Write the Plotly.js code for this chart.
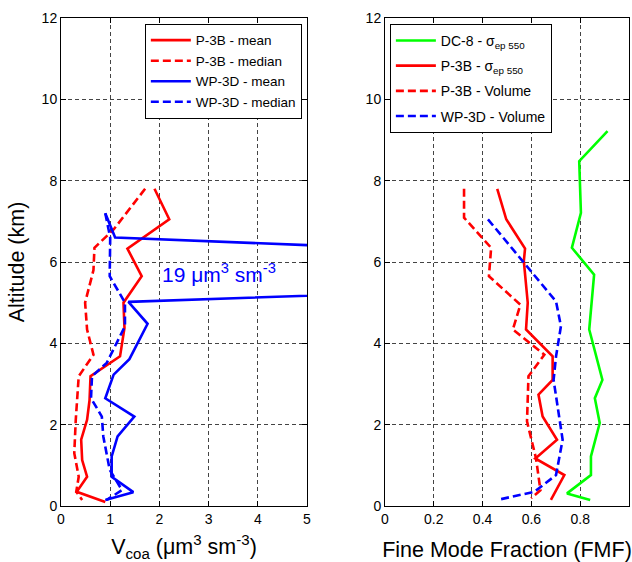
<!DOCTYPE html>
<html>
<head>
<meta charset="utf-8">
<script src="https://cdn.plot.ly/plotly-3.0.1.min.js"></script>
<style>html,body{margin:0;padding:0;background:#fff;}#chart{width:632px;height:562px;}</style>
</head>
<body>
<div id="chart"></div>
<script>
// ---- Left panel: coarse-mode volume (um^3 sm^-3) vs altitude (km) ----
const p3bMeanAlt = [7.80, 7.05, 6.33, 5.65, 5.00, 4.38, 3.68, 3.19, 2.60, 2.12, 1.63, 1.13, 0.72, 0.35, 0.10];
const p3bMeanV   = [1.90, 2.20, 1.35, 1.64, 1.27, 1.29, 1.20, 0.60, 0.58, 0.53, 0.41, 0.43, 0.53, 0.32, 0.90];

const p3bMedAlt = [7.80, 6.80, 6.35, 5.80, 5.00, 4.34, 3.72, 3.19, 2.12, 1.30, 0.72, 0.35, 0.15];
const p3bMedV   = [1.71, 1.07, 0.68, 0.66, 0.49, 0.53, 0.66, 0.36, 0.30, 0.27, 0.36, 0.31, 0.43];

const wpMeanAlt = [7.20, 6.60, 5.75, 5.02, 4.48, 3.61, 3.23, 2.65, 2.20, 1.71, 1.22, 0.72, 0.34, 0.15];
const wpMeanV   = [0.90, 1.10, 19.0, 1.37, 1.76, 1.39, 1.07, 0.90, 1.49, 1.15, 1.03, 1.03, 1.47, 0.90];

const wpMedAlt = [7.20, 6.60, 5.65, 5.00, 4.42, 3.52, 3.19, 2.65, 2.20, 1.71, 0.89, 0.39, 0.15];
const wpMedV   = [0.90, 1.00, 0.99, 1.30, 1.30, 0.93, 0.63, 0.61, 0.83, 0.86, 0.99, 1.24, 0.93];

// ---- Right panel: fine mode fraction vs altitude (km) ----
const dc8Alt = [9.22, 8.48, 7.21, 6.35, 5.69, 4.34, 3.10, 2.65, 2.04, 1.22, 0.76, 0.31, 0.15];
const dc8Fmf = [0.912, 0.796, 0.803, 0.766, 0.857, 0.837, 0.891, 0.860, 0.880, 0.844, 0.844, 0.746, 0.841];

const p3bSigAlt = [7.80, 7.05, 6.33, 6.02, 5.00, 4.34, 3.68, 3.10, 2.74, 2.20, 1.63, 1.17, 0.76, 0.15];
const p3bSigFmf = [0.460, 0.497, 0.574, 0.569, 0.585, 0.578, 0.687, 0.687, 0.629, 0.646, 0.705, 0.616, 0.735, 0.680];

const p3bVolAlt = [7.80, 7.09, 6.35, 5.65, 4.95, 4.34, 3.72, 3.19, 2.08, 1.17, 0.39, 0.19];
const p3bVolFmf = [0.324, 0.324, 0.435, 0.426, 0.555, 0.524, 0.653, 0.588, 0.582, 0.619, 0.637, 0.599];

const wpVolAlt = [7.05, 6.02, 5.03, 4.42, 3.68, 3.10, 1.63, 0.76, 0.35, 0.16];
const wpVolFmf = [0.422, 0.565, 0.701, 0.721, 0.701, 0.691, 0.728, 0.701, 0.612, 0.469];

const leftNames  = ['P-3B - mean', 'P-3B - median', 'WP-3D - mean', 'WP-3D - median'];
const rightNames = ['DC-8 - σ<sub>ep 550</sub>', 'P-3B - σ<sub>ep 550</sub>', 'P-3B - Volume', 'WP-3D - Volume'];
const annoText = '19 μm<sup>3</sup> sm<sup>-3</sup>';
const annoPos = {x: 3.22, y: 5.74};

const FONT = 'Arial, "Liberation Sans", Helvetica, sans-serif';
const RED = '#ff0000', BLUE = '#0000ff', GREEN = '#00ff00';
const LW = 2.6;
const DASH = '8px,4px';
const TITLE_SIZE = 21.5;

function tr(x, y, name, color, dash, xa, ya, leg, grp) {
  return {type: 'scatter', mode: 'lines', x: x, y: y, name: name,
    xaxis: xa, yaxis: ya, legend: leg, legendgroup: grp,
    line: {color: color, width: LW, dash: dash}, hoverinfo: 'skip'};
}

const data = [
  tr(p3bMeanV, p3bMeanAlt, leftNames[0], RED, 'solid', 'x', 'y', 'legend', 'a1'),
  tr(p3bMedV, p3bMedAlt, leftNames[1], RED, DASH, 'x', 'y', 'legend', 'a2'),
  tr(wpMeanV, wpMeanAlt, leftNames[2], BLUE, 'solid', 'x', 'y', 'legend', 'a3'),
  tr(wpMedV, wpMedAlt, leftNames[3], BLUE, DASH, 'x', 'y', 'legend', 'a4'),
  tr(dc8Fmf, dc8Alt, rightNames[0], GREEN, 'solid', 'x2', 'y2', 'legend2', 'b1'),
  tr(p3bSigFmf, p3bSigAlt, rightNames[1], RED, 'solid', 'x2', 'y2', 'legend2', 'b2'),
  tr(p3bVolFmf, p3bVolAlt, rightNames[2], RED, DASH, 'x2', 'y2', 'legend2', 'b3'),
  tr(wpVolFmf, wpVolAlt, rightNames[3], BLUE, DASH, 'x2', 'y2', 'legend2', 'b4')
];

function axis(extra) {
  return Object.assign({
    showline: true, mirror: 'ticks', linecolor: '#000', linewidth: 1,
    ticks: 'inside', ticklen: 5, tickcolor: '#000', tickwidth: 1,
    showgrid: true, gridcolor: '#444', gridwidth: 1, griddash: '4px,3px',
    zeroline: false, tickfont: {family: FONT, size: 14, color: '#000'},
    automargin: false, fixedrange: true
  }, extra);
}

const layout = {
  width: 632, height: 562,
  margin: {l: 61, r: 3, t: 18, b: 56},
  paper_bgcolor: '#fff', plot_bgcolor: '#fff',
  font: {family: FONT, color: '#000'},
  showlegend: true,
  xaxis: axis({domain: [0, 0.4331], range: [0, 5], tickvals: [0, 1, 2, 3, 4, 5], anchor: 'y',
    title: {text: 'V<sub>coa</sub> (μm<sup>3</sup> sm<sup>-3</sup>)', font: {family: FONT, size: TITLE_SIZE, color: '#000'}, standoff: 16}}),
  yaxis: axis({range: [0, 12], tickvals: [0, 2, 4, 6, 8, 10, 12], anchor: 'x',
    title: {text: 'Altitude (km)', font: {family: FONT, size: TITLE_SIZE, color: '#000'}, standoff: 11}}),
  xaxis2: axis({domain: [0.5704, 1], range: [0, 1], tickvals: [0, 0.2, 0.4, 0.6, 0.8, 1], anchor: 'y2',
    title: {text: 'Fine Mode Fraction (FMF)', font: {family: FONT, size: TITLE_SIZE, color: '#000'}, standoff: 16}}),
  yaxis2: axis({range: [0, 12], tickvals: [0, 2, 4, 6, 8, 10, 12], anchor: 'x2'}),
  legend: {x: 0.424, xanchor: 'right', y: 0.988, yanchor: 'top', bgcolor: '#fff',
    bordercolor: '#000', borderwidth: 1, font: {family: FONT, size: 13.5, color: '#000'}, itemwidth: 40,
    traceorder: 'grouped', tracegroupgap: 0},
  legend2: {x: 0.579, xanchor: 'left', y: 0.988, yanchor: 'top', bgcolor: '#fff',
    bordercolor: '#000', borderwidth: 1, font: {family: FONT, size: 14, color: '#000'}, itemwidth: 40,
    traceorder: 'grouped', tracegroupgap: 4},
  annotations: [{xref: 'x', yref: 'y', x: annoPos.x, y: annoPos.y, text: annoText, showarrow: false,
    font: {family: FONT, size: 21, color: BLUE}}]
};

Plotly.newPlot('chart', data, layout, {displayModeBar: false, staticPlot: true});
</script>
</body>
</html>
